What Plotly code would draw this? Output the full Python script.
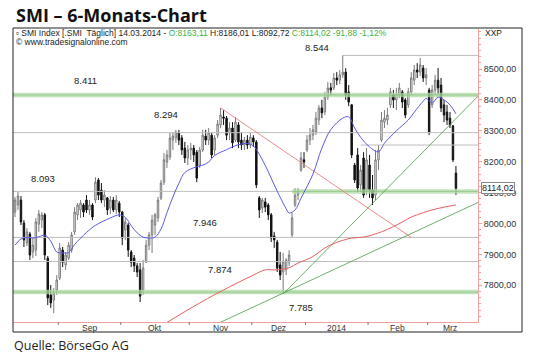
import plotly.graph_objects as go

# ---------------- data (trading-day index 0 = 12.08.2013 ... 148 = 14.03.2014)
opens = [8037,8060,8076,8002,7937,7966,7908,7914,7998,8011,8028,7888,7769,7752,7785,7824,7914,7866,7888,7914,
         7973,8028,8044,8060,8076,8044,8060,8076,8141,8108,8076,8083,8050,8076,8044,8066,8037,7979,7995,7908,
         7888,7863,7850,7785,7875,7930,7963,7995,8018,8083,8134,8199,8215,8270,8277,8293,8277,8244,8212,8238,
         8244,8231,8189,8238,8283,8270,8286,8238,8286,8319,8345,8341,8293,8309,8270,8319,8270,8254,8270,8254,
         8277,8264,8083,8050,8070,8060,8028,7960,7940,7866,7843,7850,7875,7963,8060,8092,8173,8206,8238,8270,
         8286,8296,8335,8374,8361,8409,8439,8439,8471,8464,8481,8490,8426,8384,8189,8222,8125,8212,8108,8189,
         8108,8092,8206,8270,8328,8335,8384,8416,8400,8416,8426,8400,8384,8426,8464,8497,8490,8503,8471,8432,
         8384,8432,8464,8448,8384,8361,8341,8316,8163.11]
highs = [8086,8102,8089,8011,7985,7973,7956,8018,8044,8037,8034,7895,7801,7791,7833,7937,7924,7908,7940,7973,
         8053,8066,8076,8066,8092,8076,8066,8150,8147,8131,8108,8086,8089,8086,8092,8073,8041,8018,8002,7914,
         7898,7872,7872,7882,7947,7973,8028,8034,8086,8141,8228,8238,8293,8296,8303,8303,8286,8264,8254,8261,
         8254,8238,8248,8303,8303,8309,8293,8286,8335,8374,8367,8348,8328,8328,8345,8328,8293,8280,8286,8293,
         8286,8270,8089,8083,8083,8066,8034,7973,7947,7908,7905,7888,7914,8034,8115,8115,8231,8231,8286,8309,
         8319,8361,8384,8400,8426,8458,8455,8487,8490,8497,8544,8503,8448,8387,8196,8244,8189,8231,8244,8222,
         8157,8238,8254,8361,8367,8374,8439,8432,8439,8455,8432,8406,8439,8490,8513,8519,8536,8513,8503,8439,
         8448,8481,8503,8471,8400,8384,8361,8319,8186.01]
lows = [8021,8044,7995,7924,7927,7882,7888,7895,7973,7985,7882,7736,7727,7710,7769,7817,7859,7850,7882,7905,
        7963,8011,8018,8021,8034,8028,8011,8066,8076,8066,8053,8028,8031,8037,8031,8021,7930,7947,7892,7859,
        7843,7827,7746,7769,7872,7914,7905,7963,8005,8076,8125,8180,8206,8238,8261,8254,8222,8196,8189,8206,
        8199,8134,8180,8231,8254,8254,8212,8222,8277,8309,8319,8270,8270,8244,8264,8244,8238,8238,8241,8244,
        8248,8115,8018,8034,8037,8011,7940,7921,7843,7817,7778,7833,7863,7953,8053,8076,8167,8180,8231,8254,
        8270,8286,8319,8341,8351,8400,8416,8432,8448,8451,8471,8400,8380,8212,8131,8102,8102,8083,8092,8083,
        8060,8076,8173,8264,8309,8319,8374,8374,8367,8406,8374,8341,8374,8416,8448,8471,8477,8458,8448,8286,
        8374,8416,8416,8361,8328,8319,8309,8199,8092.72]
closes = [8076,8089,8005,7947,7973,7898,7930,8005,8031,8028,7898,7759,7743,7775,7817,7921,7875,7898,7930,7963,
          8037,8060,8066,8037,8044,8060,8021,8134,8092,8076,8092,8044,8076,8044,8076,8037,7953,8005,7914,7875,
          7863,7843,7765,7856,7930,7963,8011,8028,8076,8131,8206,8222,8277,8283,8296,8270,8238,8212,8238,8244,
          8222,8147,8238,8286,8270,8293,8222,8277,8322,8351,8341,8286,8309,8261,8328,8264,8254,8270,8254,8280,
          8264,8125,8044,8076,8053,8028,7953,7947,7856,7833,7875,7882,7898,8018,8092,8102,8212,8199,8270,8286,
          8303,8341,8374,8358,8409,8439,8432,8471,8464,8481,8490,8416,8393,8222,8141,8115,8173,8092,8206,8108,
          8083,8206,8238,8335,8341,8351,8426,8400,8416,8439,8393,8351,8426,8471,8497,8490,8513,8471,8481,8296,
          8432,8464,8439,8374,8351,8335,8319,8205.90,8114.02]
days = list(range(len(closes)))

# moving averages
ma_fast_x = [0,2,4,6,8,10,12,14,16,18,20,24,27,32,35,37,39,41,43,45,47,49,51,53,55,57,61,63,65,67,71,73,75,78,80,
             84,87,91,92,94,96,100,103,106,110,112,114,116,119,122,124,128,132,134,137,138,140,142,144,146,148]
ma_fast_y = [7930,7950,7955,7953,7957,7962,7943,7908,7905,7906,7932,7971,7994,8018,8028,8020,7993,7970,7956,7953,
             7956,7982,8035,8086,8130,8165,8184,8189,8199,8220,8239,8248,8255,8259,8251,8188,8125,8048,8034,8044,
             8082,8160,8244,8304,8341,8345,8309,8279,8248,8232,8260,8300,8335,8360,8396,8405,8390,8409,8400,8384,8355]
ma_slow_x = [49,62,72,80,84,88,92,95,100,104,108,113,117,123,127,130,133,137,140,144,148]
ma_slow_y = [7668,7743,7795,7833,7850,7850,7857,7872,7893,7921,7939,7953,7956,7973,7990,8005,8021,8035,8044,8053,8060]

# trend lines
red_trend_x, red_trend_y = [69, 133], [8374, 7955]
green_steep_x, green_steep_y = [90, 155.4], [7772, 8412]
green_flat_x, green_flat_y = [68, 155.4], [7676, 8068]

# horizontal levels: (value, start index, end index)
gray_levels = [(8544, 110, 155.4), (8294, -0.7, 155.4), (8254, 116, 155.4), (8104, -0.7, 93),
               (7955, -0.7, 155.4), (7877, -0.7, 155.4)]
green_levels = [(8416, -0.7, 155.4), (8104, 93, 155.4), (7778, -0.7, 155.4)]

level_labels = ["8.544", "8.411", "8.294", "8.093", "7.946", "7.874", "7.785"]
level_label_px = [(317, 47), (85, 80), (166, 114), (43, 178), (205, 222), (220, 269), (301, 307)]

y_ticks = [7800, 7900, 8000, 8100, 8200, 8300, 8400, 8500]
month_names = ["Sep", "Okt", "Nov", "Dez", "2014", "Feb", "Mrz"]
month_mid = [25, 47, 69, 88.5, 108, 128.5, 146]
month_bounds = [14.5, 35.5, 58.5, 79.5, 97.5, 118.5, 138.5]
last_close = closes[-1]

X_RANGE = [-0.67, 155.4]
Y_RANGE = [7681.3, 8629.5]

# ---------------- figure
W, H = 540, 361
L, R, T, B = 13, 62, 29, 39
def px(x):
    return (x - L) / (W - L - R)
def py(y):
    return (H - B - y) / (H - T - B)

fig = go.Figure()

for v, a, b in green_levels:
    fig.add_trace(go.Scatter(x=[a, b], y=[v, v], mode="lines",
                             line=dict(color="rgba(175,218,165,0.75)", width=4.5), hoverinfo="skip"))
    fig.add_trace(go.Scatter(x=[a, b], y=[v, v], mode="lines",
                             line=dict(color="rgba(120,180,110,0.55)", width=1), hoverinfo="skip"))
for v, a, b in gray_levels:
    fig.add_trace(go.Scatter(x=[a, b], y=[v, v], mode="lines",
                             line=dict(color="#bdbdbd", width=1), hoverinfo="skip"))

fig.add_trace(go.Scatter(x=red_trend_x, y=red_trend_y, mode="lines", line=dict(color="#e88080", width=0.9)))
fig.add_trace(go.Scatter(x=green_steep_x, y=green_steep_y, mode="lines", line=dict(color="#4a9a4a", width=0.8)))
fig.add_trace(go.Scatter(x=green_flat_x, y=green_flat_y, mode="lines", line=dict(color="#4a9a4a", width=0.8)))
fig.add_trace(go.Scatter(x=ma_slow_x, y=ma_slow_y, mode="lines", line=dict(color="#e86060", width=1, shape="spline")))

fig.add_trace(go.Candlestick(
    x=days, open=opens, high=highs, low=lows, close=closes,
    increasing=dict(line=dict(color="#7a7a7a", width=1), fillcolor="#ffffff"),
    decreasing=dict(line=dict(color="#111111", width=1), fillcolor="#111111"),
    whiskerwidth=0, hoverinfo="skip"))

fig.add_trace(go.Scatter(x=ma_fast_x, y=ma_fast_y, mode="lines", line=dict(color="#5a5ae6", width=1, shape="spline")))

ann = []
for txt, (lx, ly) in zip(level_labels, level_label_px):
    ann.append(dict(x=px(lx), y=py(ly), xref="paper", yref="paper", text=txt, showarrow=False,
                    xanchor="center", yanchor="middle", font=dict(family="Liberation Sans", size=9.5, color="#222")))
for name, m in zip(month_names, month_mid):
    ann.append(dict(x=m, y=py(328), xref="x", yref="paper", text=name, showarrow=False,
                    xanchor="center", yanchor="middle", font=dict(family="Liberation Sans", size=8.5, color="#333")))

green = "#3cb043"
header = ("▫ SMI Index [.SMI  Täglich] 14.03.2014 - "
          f"<span style='color:{green}'>O:8163,11</span> H:8186,01 L:8092,72 "
          f"<span style='color:{green}'>C:8114,02 -91,88 -1,12%</span>")
ann.append(dict(x=px(14), y=py(33), xref="paper", yref="paper", text=header, showarrow=False,
                xanchor="left", yanchor="middle", font=dict(family="Liberation Sans", size=8.5, color="#222")))
ann.append(dict(x=px(14), y=py(42), xref="paper", yref="paper", text="© www.tradesignalonline.com",
                showarrow=False, xanchor="left", yanchor="middle",
                font=dict(family="Liberation Sans", size=8.5, color="#222")))
ann.append(dict(x=px(483), y=py(33), xref="paper", yref="paper", text="XXP", showarrow=False,
                xanchor="left", yanchor="middle", font=dict(family="Liberation Sans", size=8.5, color="#222")))
ann.append(dict(x=px(14), y=py(15), xref="paper", yref="paper", text="<b>SMI – 6-Monats-Chart</b>",
                showarrow=False, xanchor="left", yanchor="middle",
                font=dict(family="Open Sans", size=18, color="#111")))
ann.append(dict(x=px(12), y=py(345), xref="paper", yref="paper", text="Quelle: BörseGo AG",
                showarrow=False, xanchor="left", yanchor="middle",
                font=dict(family="Open Sans", size=12.5, color="#222")))
ann.append(dict(x=1, y=last_close, xref="paper", yref="y", text=f"{last_close:.2f}".replace(".", ","),
                showarrow=False, xanchor="left", yanchor="middle", xshift=3,
                bgcolor="#ffffff", bordercolor="#8a8a8a", borderwidth=1, borderpad=0,
                font=dict(family="Liberation Sans", size=9, color="#222")))

shapes = [dict(type="rect", xref="paper", yref="paper", x0=0, x1=px(522), y0=py(332), y1=py(28),
               line=dict(color="#222", width=1), fillcolor="rgba(0,0,0,0)", layer="above")]
for mb in month_bounds:
    shapes.append(dict(type="line", xref="x", yref="paper", x0=mb, x1=mb, y0=0, y1=py(325),
                       line=dict(color="#777", width=1)))

fig.update_layout(
    width=W, height=H, margin=dict(l=L, r=R, t=T, b=B),
    paper_bgcolor="white", plot_bgcolor="white", showlegend=False, hovermode=False,
    annotations=ann, shapes=shapes,
    xaxis=dict(range=X_RANGE, showgrid=False, zeroline=False, showticklabels=False,
               showline=True, linecolor="#f2a0a0", linewidth=1, rangeslider=dict(visible=False), fixedrange=True),
    yaxis=dict(range=Y_RANGE, side="right", showgrid=False, zeroline=False, showline=True,
               linecolor="#f2a0a0", linewidth=1, ticks="outside", ticklen=3, tickcolor="#f2a0a0",
               tickvals=y_ticks, ticktext=[f"{v},00" for v in y_ticks],
               tickfont=dict(family="Liberation Sans", size=9, color="#333"),
               minor=dict(ticks="outside", ticklen=2, tickcolor="#f2a0a0", dtick=20), fixedrange=True),
)

fig.write_html("out.html")
